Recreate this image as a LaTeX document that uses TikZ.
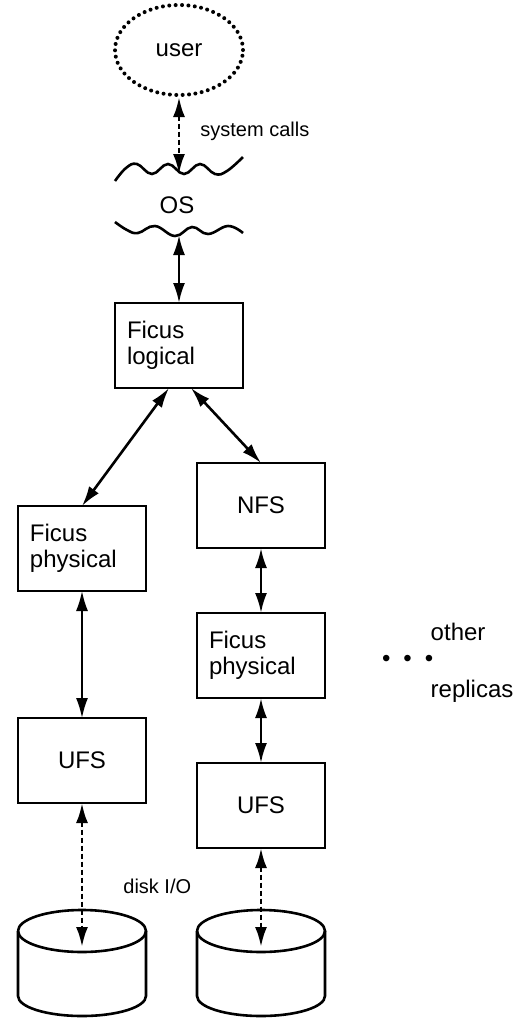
\documentclass[tikz,border=0pt]{standalone}
\usepackage{fontspec}
\setmainfont{Liberation Sans}
\usetikzlibrary{positioning, arrows.meta, shapes.geometric}

\begin{document}
\begin{tikzpicture}[x=0.5pt, y=-0.5pt,
		layer/.style={rectangle, draw, line width=1.3pt, inner sep=0pt, outer sep=0pt, minimum width=64pt, minimum height=42.5pt, font=\fontsize{12}{13}\selectfont},
		ficus/.style={layer, text width=52pt, align=left},
		userproc/.style={ellipse, draw, line width=2pt, line cap=round, dash pattern=on 0pt off 3.2pt, minimum width=64pt, minimum height=45pt, font=\fontsize{12}{13}\selectfont},
		disk/.style={rectangle, inner sep=0pt, outer sep=0pt, minimum width=64pt, minimum height=53pt},
		diskline/.style={line width=1.3pt},
		textb/.style={font=\fontsize{12}{13}\selectfont},
		mylabel/.style={font=\fontsize{10}{12}\selectfont, inner sep=0pt},
		wave/.style={line width=1.3pt, smooth, tension=0.7},
		link/.style={<->, line width=1.3pt},
		iolink/.style={<->, line width=1.4pt, dash pattern=on 2.5pt off 1.5pt},
		>={Latex[length=10pt, width=6pt]}
	]
	\useasboundingbox (0,0) rectangle (520,1019);

	\node[userproc] (user) at (179,50) {user};
	\coordinate (ostop) at (179,174);
	\coordinate (osbot) at (179,235);
	\node[textb] (os) at (177,205) {OS};
	\node[ficus, below=34pt of osbot] (logical) {Ficus\\logical};
	\node[layer, below=37.5pt of logical, xshift=41pt] (nfs) {NFS};
	\node[ficus, below=59pt of logical, xshift=-48.5pt] (lphys) {Ficus\\physical};
	\node[ficus, below=32.5pt of nfs] (rphys) {Ficus\\physical};
	\node[layer, below=63.5pt of lphys] (lufs) {UFS};
	\node[layer, below=32.5pt of rphys] (rufs) {UFS};
	\node[disk, below=53.5pt of lufs] (ldisk) {};
	\node[disk, below=31pt of rufs] (rdisk) {};
	\node[textb, right=25pt of rphys, yshift=-2.5pt] (dots) {\textbullet\hspace{6.5pt}\textbullet\hspace{6.5pt}\textbullet};
	\node[textb, above=0pt of dots.north, anchor=south west, xshift=8pt] (other) {other};
	\node[textb, below=0pt of dots.south, anchor=north west, xshift=8pt] (replicas) {replicas};

	% disks
	\foreach \d in {ldisk, rdisk} {
		\draw[diskline] ([yshift=-10.5pt]\d.north west) arc[start angle=180, end angle=-180, x radius=32pt, y radius=10.5pt];
		\draw[diskline] ([yshift=-10.5pt]\d.north west) -- ([yshift=10pt]\d.south west)
			arc[start angle=180, end angle=360, x radius=32pt, y radius=10pt] -- ([yshift=-10.5pt]\d.north east);
	}

	% the OS layer
	\draw[wave] plot coordinates {(115,181) (126,168) (137,164) (152,174) (168,164) (184,174) (200,164) (215,174) (227,171) (243,157)};
	\draw[wave] plot coordinates {(115,222) (127,230) (138,233) (155,226) (175,236) (192,227) (208,234) (228,226) (243,233)};

	\draw[iolink] (user) -- node[mylabel, pos=0.45, right=10pt] {system calls} (ostop);

	\foreach \i/\j in {osbot/logical, nfs/rphys, rphys/rufs}
		\draw[link] (\i) -- (\j);

	\draw[<->, line width=0.9pt] (lphys) -- (lufs);
	\draw[link] ([xshift=-5pt]logical.south) -- (lphys.north);
	\draw[link] ([xshift=6pt]logical.south) -- (nfs.north);

	\draw[iolink] (lufs) -- node[mylabel, pos=0.58, right=20pt] {disk I/O} ([yshift=-18.5pt]ldisk.north);
	\draw[iolink] (rufs) -- ([yshift=-18.5pt]rdisk.north);

\end{tikzpicture}
\end{document}
